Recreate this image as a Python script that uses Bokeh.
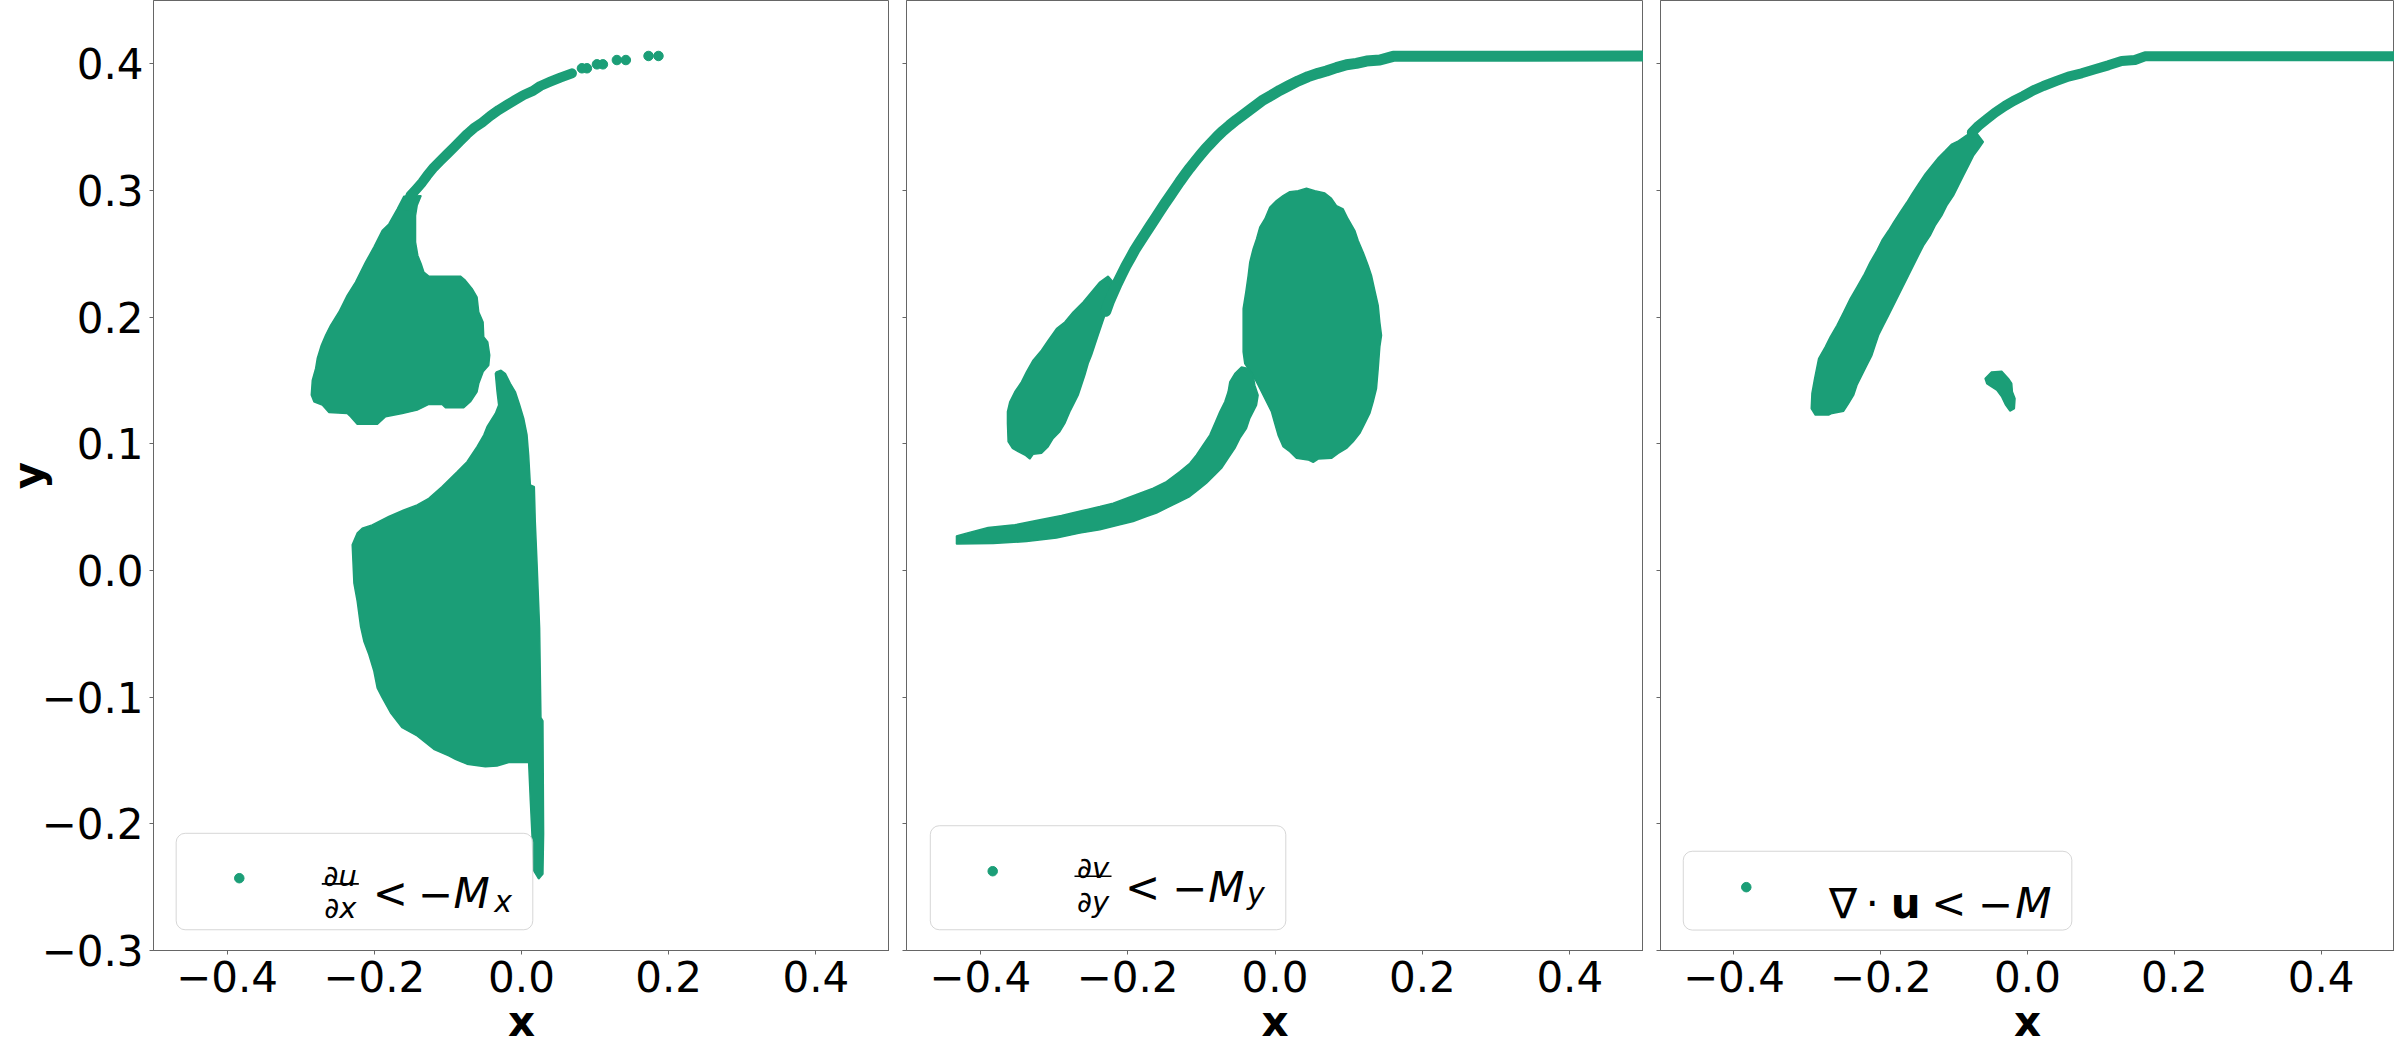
from bokeh.plotting import figure
from bokeh.layouts import row
from bokeh.models import Range1d, FixedTicker, CustomJSTickFormatter, BoxAnnotation, Label
from bokeh.embed import file_html
from bokeh.resources import INLINE

# ---------------- data ----------------
x_ticks = [-0.4, -0.2, 0.0, 0.2, 0.4]
y_ticks = [-0.3, -0.2, -0.1, 0.0, 0.1, 0.2, 0.3, 0.4]

# Panel 1: du/dx < -Mx
p1_arc_x = [0.0685, 0.0527, 0.0391, 0.0255, 0.0156, 0.0030, -0.0084, -0.0197, -0.0309, -0.0423,
            -0.0536, -0.0649, -0.0740, -0.0830, -0.0920, -0.1011, -0.1102, -0.1192, -0.1283,
            -0.1350, -0.1427, -0.1509, -0.1560]
p1_arc_y = [0.3925, 0.3891, 0.3859, 0.3825, 0.3786, 0.3754, 0.3715, 0.3676, 0.3636, 0.3589,
            0.3536, 0.3492, 0.3445, 0.3392, 0.3339, 0.3287, 0.3235, 0.3182, 0.3117,
            0.3064, 0.3012, 0.2959, 0.2880]
p1_tip_x = [0.1861, 0.1726, 0.1418, 0.1296, 0.1106, 0.1025, 0.0889, 0.0821]
p1_tip_y = [0.4062, 0.4062, 0.4030, 0.4030, 0.3996, 0.3996, 0.3965, 0.3965]
p1_up_x = [-0.1599, -0.1364, -0.1418, -0.1440, -0.1440, -0.1409, -0.1364, -0.1327, -0.1260, -0.0830,
           -0.0762, -0.0671, -0.0604, -0.0581, -0.0522, -0.0513, -0.0459, -0.0432, -0.0445, -0.0522,
           -0.0581, -0.0604, -0.0694, -0.0785, -0.1033, -0.1079, -0.1260, -0.1418, -0.1621, -0.1847,
           -0.1961, -0.2232, -0.2322, -0.2368, -0.2616, -0.2707, -0.2820, -0.2856, -0.2842, -0.2797,
           -0.2775, -0.2720, -0.2662, -0.2594, -0.2481, -0.2368, -0.2255, -0.2119, -0.2006, -0.1893,
           -0.1802, -0.1689]
p1_up_y = [0.2954, 0.2959, 0.2881, 0.2802, 0.2592, 0.2487, 0.2421, 0.2356, 0.2324, 0.2324,
           0.2290, 0.2225, 0.2159, 0.2041, 0.1962, 0.1844, 0.1805, 0.1700, 0.1621, 0.1568,
           0.1476, 0.1411, 0.1332, 0.1285, 0.1285, 0.1311, 0.1311, 0.1266, 0.1240, 0.1214,
           0.1154, 0.1154, 0.1214, 0.1240, 0.1248, 0.1306, 0.1332, 0.1385, 0.1503, 0.1595,
           0.1673, 0.1778, 0.1857, 0.1936, 0.2041, 0.2172, 0.2277, 0.2434, 0.2553, 0.2684,
           0.2736, 0.2854]
p1_low_x = [-0.0341, -0.0278, -0.0219, -0.0151, -0.0084, -0.0025, 0.0030, 0.0075, 0.0097, 0.0120,
            0.0174, 0.0187, 0.0210, 0.0246, 0.0264, 0.0291, 0.0300, 0.0291, 0.0233, 0.0165,
            0.0142, 0.0120, 0.0097, -0.0174, -0.0333, -0.0491, -0.0740, -0.0898, -0.0988, -0.1192,
            -0.1418, -0.1622, -0.1780, -0.1893, -0.1961, -0.2006, -0.2074, -0.2142, -0.2187, -0.2232,
            -0.2277, -0.2300, -0.2232, -0.2164, -0.2029, -0.1803, -0.1599, -0.1418, -0.1260, -0.1079,
            -0.0875, -0.0740, -0.0604, -0.0513, -0.0468, -0.0355, -0.0310, -0.0332, -0.0355]
p1_low_y = [0.1568, 0.1581, 0.1555, 0.1476, 0.1411, 0.1306, 0.1201, 0.1070, 0.0912, 0.0675,
            0.0662, 0.0387, 0.0072, -0.0453, -0.1162, -0.1188, -0.2081, -0.2396, -0.2435, -0.2369,
            -0.2081, -0.1818, -0.1516, -0.1516, -0.1543, -0.1550, -0.1529, -0.1490, -0.1464, -0.1411,
            -0.1306, -0.1241, -0.1123, -0.1004, -0.0926, -0.0794, -0.0663, -0.0558, -0.0440, -0.0243,
            -0.0099, 0.0203, 0.0295, 0.0334, 0.0360, 0.0426, 0.0478, 0.0518, 0.0570, 0.0662,
            0.0780, 0.0859, 0.0977, 0.1069, 0.1135, 0.1240, 0.1306, 0.1411, 0.1555]

# Panel 2: dv/dy < -My
p2_curve_x = [0.5, 0.1603, 0.1422, 0.1241, 0.1105, 0.0970, 0.0834, 0.0698, 0.0585, 0.0450,
              0.0314, 0.0178, 0.0065, -0.0048, -0.0161, -0.0251, -0.0342, -0.0432, -0.0523, -0.0613,
              -0.0704, -0.0785, -0.0862, -0.0939, -0.1011, -0.1084, -0.1156, -0.1224, -0.1292, -0.1359,
              -0.1427, -0.1495, -0.1563, -0.1631, -0.1699, -0.1766, -0.1834, -0.1902, -0.1961, -0.2024,
              -0.2083, -0.2142, -0.2196, -0.2251, -0.2296]
p2_curve_y = [0.4061, 0.4059, 0.4030, 0.4022, 0.4004, 0.3993, 0.3970, 0.3943, 0.3925, 0.3899,
              0.3865, 0.3825, 0.3791, 0.3752, 0.3715, 0.3676, 0.3636, 0.3597, 0.3558, 0.3516,
              0.3471, 0.3426, 0.3379, 0.3332, 0.3282, 0.3230, 0.3177, 0.3124, 0.3069, 0.3012,
              0.2954, 0.2896, 0.2836, 0.2775, 0.2715, 0.2655, 0.2594, 0.2531, 0.2468, 0.2403,
              0.2334, 0.2264, 0.2193, 0.2119, 0.2046]
p2_tear_x = [-0.2264, -0.2196, -0.2219, -0.2264, -0.2309, -0.2354, -0.2400, -0.2445, -0.2490, -0.2535,
             -0.2581, -0.2626, -0.2671, -0.2739, -0.2784, -0.2852, -0.2920, -0.3010, -0.3078, -0.3168,
             -0.3282, -0.3327, -0.3381, -0.3485, -0.3562, -0.3621, -0.3630, -0.3630, -0.3598, -0.3530,
             -0.3440, -0.3372, -0.3282, -0.3168, -0.3078, -0.2965, -0.2852, -0.2739, -0.2603, -0.2490,
             -0.2377]
p2_tear_y = [0.2324, 0.2277, 0.2172, 0.2093, 0.2014, 0.1936, 0.1857, 0.1778, 0.1699, 0.1634,
             0.1542, 0.1463, 0.1384, 0.1306, 0.1253, 0.1161, 0.1096, 0.1043, 0.0978, 0.0925,
             0.0917, 0.0880, 0.0907, 0.0938, 0.0964, 0.1017, 0.1161, 0.1253, 0.1332, 0.1411,
             0.1489, 0.1568, 0.1660, 0.1739, 0.1817, 0.1909, 0.1962, 0.2041, 0.2119, 0.2198,
             0.2277]
p2_oval_x = [0.0427, 0.0540, 0.0676, 0.0766, 0.0834, 0.0925, 0.0992, 0.1083, 0.1128, 0.1196,
             0.1264, 0.1309, 0.1354, 0.1400, 0.1422, 0.1445, 0.1422, 0.1400, 0.1377, 0.1332,
             0.1286, 0.1219, 0.1151, 0.1060, 0.0970, 0.0857, 0.0766, 0.0585, 0.0518, 0.0450,
             0.0291, 0.0201, 0.0110, 0.0042, -0.0003, -0.0048, -0.0116, -0.0184, -0.0251, -0.0319,
             -0.0410, -0.0432, -0.0432, -0.0396, -0.0364, -0.0342, -0.0297, -0.0251, -0.0206, -0.0138,
             -0.0071, 0.0020, 0.0110, 0.0201, 0.0314]
p2_oval_y = [0.3017, 0.2999, 0.2980, 0.2938, 0.2880, 0.2854, 0.2775, 0.2684, 0.2605, 0.2513,
             0.2408, 0.2329, 0.2211, 0.2093, 0.1962, 0.1857, 0.1765, 0.1594, 0.1437, 0.1332,
             0.1240, 0.1161, 0.1083, 0.1017, 0.0964, 0.0925, 0.0886, 0.0880, 0.0854, 0.0873,
             0.0886, 0.0938, 0.0978, 0.1069, 0.1161, 0.1253, 0.1332, 0.1411, 0.1489, 0.1555,
             0.1634, 0.1725, 0.2067, 0.2198, 0.2329, 0.2434, 0.2539, 0.2618, 0.2710, 0.2775,
             0.2867, 0.2920, 0.2959, 0.2991, 0.2999]
p2_low_x = [-0.4322, -0.4186, -0.3892, -0.3530, -0.3191, -0.2897, -0.2626, -0.2377, -0.2196, -0.2015,
            -0.1834, -0.1653, -0.1473, -0.1292, -0.1156, -0.1066, -0.0975, -0.0885, -0.0817, -0.0749,
            -0.0681, -0.0636, -0.0613, -0.0545, -0.0455, -0.0364, -0.0297, -0.0274, -0.0229, -0.0251,
            -0.0342, -0.0387, -0.0477, -0.0545, -0.0636, -0.0726, -0.0817, -0.0930, -0.1043, -0.1156,
            -0.1292, -0.1473, -0.1608, -0.1744, -0.1925, -0.2106, -0.2377, -0.2649, -0.2965, -0.3372,
            -0.3824, -0.4322]
p2_low_y = [0.0272, 0.0295, 0.0340, 0.0361, 0.0400, 0.0434, 0.0471, 0.0505, 0.0531, 0.0571,
            0.0610, 0.0649, 0.0702, 0.0781, 0.0846, 0.0912, 0.0991, 0.1069, 0.1161, 0.1253,
            0.1332, 0.1411, 0.1489, 0.1555, 0.1607, 0.1594, 0.1542, 0.1463, 0.1384, 0.1306,
            0.1201, 0.1122, 0.1043, 0.0964, 0.0886, 0.0807, 0.0754, 0.0689, 0.0636, 0.0584,
            0.0544, 0.0492, 0.0453, 0.0426, 0.0387, 0.0361, 0.0321, 0.0295, 0.0256, 0.0229,
            0.0213, 0.0210]

# Panel 3: div u < -M
p3_curve_x = [0.5, 0.1599, 0.1463, 0.1282, 0.1100, 0.0919, 0.0737, 0.0556, 0.0397, 0.0216,
              0.0080, -0.0056, -0.0193, -0.0306, -0.0442, -0.0555, -0.0669, -0.0759]
p3_curve_y = [0.4059, 0.4059, 0.4030, 0.4022, 0.3988, 0.3957, 0.3925, 0.3899, 0.3865, 0.3825,
              0.3791, 0.3747, 0.3707, 0.3668, 0.3615, 0.3563, 0.3510, 0.3458]
p3_band_x = [-0.0601, -0.0669, -0.0737, -0.0805, -0.0873, -0.0941, -0.1009, -0.1100, -0.1168, -0.1258,
             -0.1326, -0.1417, -0.1485, -0.1553, -0.1621, -0.1689, -0.1757, -0.1825, -0.1893, -0.1961,
             -0.2029, -0.2075, -0.2120, -0.2188, -0.2256, -0.2324, -0.2369, -0.2437, -0.2505, -0.2664,
             -0.2710, -0.2891, -0.2946, -0.2937, -0.2900, -0.2846, -0.2755, -0.2687, -0.2596, -0.2505,
             -0.2415, -0.2324, -0.2233, -0.2143, -0.2052, -0.1984, -0.1893, -0.1825, -0.1735, -0.1644,
             -0.1576, -0.1485, -0.1394, -0.1304, -0.1213, -0.1122, -0.1032, -0.0941, -0.0828, -0.0714]
p3_band_y = [0.3384, 0.3327, 0.3274, 0.3195, 0.3117, 0.3038, 0.2959, 0.2880, 0.2802, 0.2723,
             0.2644, 0.2565, 0.2487, 0.2408, 0.2329, 0.2251, 0.2172, 0.2093, 0.2014, 0.1936,
             0.1857, 0.1778, 0.1699, 0.1621, 0.1542, 0.1463, 0.1384, 0.1319, 0.1258, 0.1240,
             0.1227, 0.1227, 0.1279, 0.1398, 0.1516, 0.1673, 0.1765, 0.1844, 0.1936, 0.2041,
             0.2146, 0.2237, 0.2329, 0.2434, 0.2526, 0.2605, 0.2684, 0.2749, 0.2828, 0.2907,
             0.2972, 0.3051, 0.3130, 0.3195, 0.3261, 0.3313, 0.3366, 0.3392, 0.3437, 0.3471]
p3_blob_x = [-0.0578, -0.0488, -0.0351, -0.0261, -0.0215, -0.0206, -0.0170, -0.0179, -0.0238, -0.0297,
             -0.0351, -0.0419, -0.0488, -0.0555]
p3_blob_y = [0.1516, 0.1568, 0.1573, 0.1516, 0.1476, 0.1411, 0.1358, 0.1279, 0.1258, 0.1306,
             0.1371, 0.1424, 0.1450, 0.1476]

# ---------------- styling ----------------
GREEN = "#1b9e77"
AXC = "#666666"
FONT = "DejaVu Sans"
FS = "42px"
FRAC = "29px"
SUB = "30px"
XMIN, XMAX, YMIN, YMAX = -0.5, 0.5, -0.3, 0.45

# reference frame geometry (pixels) used to place legend pieces in data units
REF_LEFT = {1: 156.0, 2: 910.0, 3: 1665.0}
REF_W = {1: 737.0, 2: 737.0, 3: 735.0}
REF_TOP, REF_PX_PER_Y = 4.3, 1270.0


def dxp(panel, px):
    return XMIN + (px - REF_LEFT[panel]) / REF_W[panel] * (XMAX - XMIN)


def dyp(py):
    return YMAX - (py - REF_TOP) / REF_PX_PER_Y


def make_fig(border_left, frame_w, show_y):
    p = figure(frame_width=frame_w, frame_height=950,
               x_range=Range1d(XMIN, XMAX), y_range=Range1d(YMIN, YMAX),
               output_backend="svg", toolbar_location=None,
               min_border_left=border_left, min_border_right=0,
               min_border_top=0, min_border_bottom=0)
    p.grid.visible = False
    p.background_fill_color = "white"
    p.border_fill_color = "white"
    p.outline_line_color = AXC
    p.outline_line_width = 1
    for ax in p.axis:
        ax.axis_line_color = AXC
        ax.major_tick_line_color = AXC
        ax.minor_tick_line_color = None
        ax.major_tick_in = 0
        ax.major_tick_out = 4
        ax.major_label_text_font = FONT
        ax.major_label_text_font_size = FS
        ax.major_label_text_color = "black"
        ax.axis_label_text_font = FONT
        ax.axis_label_text_font_size = FS
        ax.axis_label_text_font_style = "bold"
        ax.axis_label_text_color = "black"
    xa = p.xaxis[0]
    xa.ticker = FixedTicker(ticks=x_ticks)
    xa.formatter = CustomJSTickFormatter(code="return tick.toFixed(1).replace('-', '\u2212');")
    xa.major_label_standoff = 6
    xa.axis_label = "x"
    xa.axis_label_standoff = 2
    ya = p.yaxis[0]
    ya.ticker = FixedTicker(ticks=y_ticks)
    if show_y:
        ya.formatter = CustomJSTickFormatter(code="return tick.toFixed(1).replace('-', '\u2212');")
        ya.major_label_standoff = 6
        ya.axis_label = "y"
        ya.axis_label_standoff = -14
    else:
        ya.formatter = CustomJSTickFormatter(code="return '';")
        ya.major_label_standoff = 0
        ya.major_label_text_font_size = "0px"
    return p


def poly(p, xs, ys):
    p.patch(xs, ys, fill_color=GREEN, line_color=GREEN, line_width=1.5)


def curve(p, xs, ys, w):
    p.line(xs, ys, line_color=GREEN, line_width=w, line_cap="round", line_join="round")


def legend(p, panel, box, marker, pieces, bars=()):
    l, r, t, b = box
    p.add_layout(BoxAnnotation(left=dxp(panel, l), right=dxp(panel, r), top=dyp(t), bottom=dyp(b),
                               fill_color="white", fill_alpha=0.8, line_color="#cccccc",
                               line_alpha=0.8, line_width=1, border_radius=9))
    for (bl, br, bt, bb) in bars:
        p.add_layout(BoxAnnotation(left=dxp(panel, bl), right=dxp(panel, br), top=dyp(bt),
                                   bottom=dyp(bb), fill_color="black", fill_alpha=1,
                                   line_color=None))
    r_ = p.scatter([dxp(panel, marker[0])], [dyp(marker[1])], size=9.5, marker="circle",
                   fill_color=GREEN, line_color=GREEN)
    r_.level = "overlay"
    for (txt, px, py, size, style) in pieces:
        p.add_layout(Label(x=dxp(panel, px), y=dyp(py), text=txt, text_font=FONT,
                           text_font_size=size, text_font_style=style, text_color="black",
                           text_align="center", text_baseline="alphabetic"))


# ---------------- panel 1 ----------------
p1 = make_fig(148, 736, True)
poly(p1, p1_up_x, p1_up_y)
poly(p1, p1_low_x, p1_low_y)
curve(p1, p1_arc_x, p1_arc_y, 10)
p1.scatter(p1_tip_x, p1_tip_y, size=9.5, marker="circle", fill_color=GREEN, line_color=GREEN)
legend(p1, 1, (178.7, 535.8, 839.3, 936.0), (241.9, 884.3), [
    ("\u2202u", 343.0, 882.0, FRAC, "italic"),
    ("\u2202x", 343.0, 914.0, FRAC, "italic"),
    ("<", 393.2, 900.0, FS, "normal"),
    ("\u2212", 438.2, 900.0, FS, "normal"),
    ("M", 474.5, 900.0, FS, "italic"),
    ("x", 506.1, 908.0, SUB, "italic"),
], bars=[(324.5, 361.6, 889.0, 891.0)])

# ---------------- panel 2 ----------------
p2 = make_fig(17, 737, False)
poly(p2, p2_tear_x, p2_tear_y)
poly(p2, p2_oval_x, p2_oval_y)
poly(p2, p2_low_x, p2_low_y)
curve(p2, p2_curve_x, p2_curve_y, 11)
legend(p2, 2, (933.8, 1289.3, 831.7, 936.0), (996.2, 877.3), [
    ("\u2202v", 1096.5, 874.0, FRAC, "italic"),
    ("\u2202y", 1096.5, 908.0, FRAC, "italic"),
    ("<", 1146.0, 893.3, FS, "normal"),
    ("\u2212", 1193.1, 893.3, FS, "normal"),
    ("M", 1229.9, 893.3, FS, "italic"),
    ("y", 1259.5, 900.0, SUB, "italic"),
], bars=[(1078.0, 1115.0, 881.5, 883.2)])

# ---------------- panel 3 ----------------
p3 = make_fig(17, 734, False)
poly(p3, p3_band_x, p3_band_y)
poly(p3, p3_blob_x, p3_blob_y)
curve(p3, p3_curve_x, p3_curve_y, 10)
legend(p3, 3, (1687.8, 2076.9, 857.3, 936.3), (1750.9, 893.3), [
    ("\u2207", 1847.7, 910.0, FS, "normal"),
    ("\u22c5", 1877.0, 910.0, FS, "normal"),
    ("u", 1910.5, 910.0, FS, "bold"),
    ("<", 1953.7, 910.0, FS, "normal"),
    ("\u2212", 2000.4, 910.0, FS, "normal"),
    ("M", 2038.4, 910.0, FS, "italic"),
])

layout = row(p1, p2, p3)
open("out.html", "w").write(file_html(layout, INLINE))
